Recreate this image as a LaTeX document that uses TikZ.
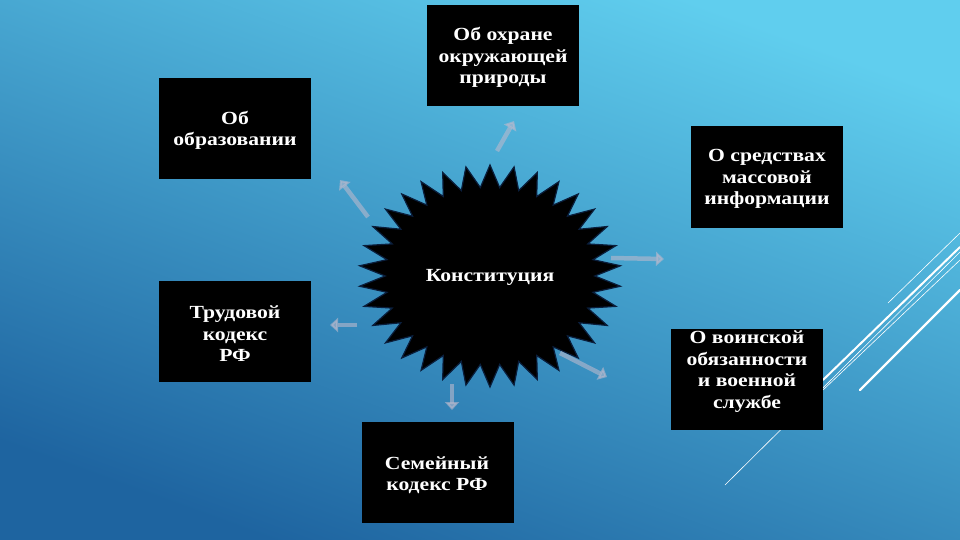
\documentclass[tikz,border=0pt]{standalone}
\usepackage{fontspec}
\newfontfamily\boxfont{Liberation Serif}[FakeStretch=1.17]
\usetikzlibrary{shapes.geometric,arrows.meta}
\definecolor{bgtop}{RGB}{96,206,238}
\definecolor{bgbot}{RGB}{30,100,160}
\definecolor{arrcol}{RGB}{185,185,205}
\definecolor{staredge}{RGB}{10,30,60}
\tikzset{
  txt/.style={text=white, font=\boxfont\bfseries\fontsize{18.5}{21.5}\selectfont, align=center, inner sep=0pt},
  box/.style={txt, fill=black, minimum width=152pt, minimum height=101pt},
  arr/.style={draw=arrcol, opacity=0.6, line width=4.5pt, -{Triangle[length=8pt,width=14pt]}},
  deco/.style={draw=white, line cap=round},
}
\begin{document}
\begin{tikzpicture}[x=1pt,y=-1pt]
\useasboundingbox (0,0) rectangle (960,540);
\shade[top color=bgtop, bottom color=bgbot, shading angle=-20] (0,0) rectangle (960,540);
% decorative lines
\coordinate (l1a) at (888,303); \coordinate (l1b) at (960,233);
\coordinate (l2a) at (823,380); \coordinate (l2b) at (960,247);
\coordinate (l3a) at (725,485); \coordinate (l3b) at (960,252);
\coordinate (l4a) at (823,390); \coordinate (l4b) at (960,260);
\coordinate (l5a) at (860,390); \coordinate (l5b) at (960,290);
\draw[deco, line width=0.6pt] (l1a) -- (l1b);
\draw[deco, line width=2pt] (l2a) -- (l2b);
\draw[deco, line width=0.6pt] (l3a) -- (l3b);
\draw[deco, line width=0.6pt] (l4a) -- (l4b);
\draw[deco, line width=2.2pt] (l5a) -- (l5b);
% star
\node[star, star points=34, star point ratio=1.25, fill=black, draw=staredge, line width=1.2pt, minimum size=222pt, inner sep=0pt, xscale=1.18] (star) at (490,276) {};
\node[txt] (konst) at (490,277) {Конституция};
% boxes
\node[box] (ohrana) at (503,55.5) {};
\node[txt] (ohranatxt) at (503,57.5) {Об охране\\окружающей\\природы};
\node[box] (obraz) at (235,129) {};
\node[txt] (obraztxt) at (235,130.5) {Об\\образовании};
\node[box] (smi) at (767,177) {};
\node[txt] (smitxt) at (767,179) {О средствах\\массовой\\информации};
\node[box] (trud) at (235,331.5) {};
\node[txt] (trudtxt) at (235,334) {Трудовой\\кодекс\\РФ};
\node[box] (voin) at (747,379.5) {};
\node[txt] (vointxt) at (747,371.5) {О воинской\\обязанности\\и военной\\службе};
\node[box] (sem) at (437.5,472) {};
\node[txt] (semtxt) at (437,475) {Семейный\\кодекс РФ};
% arrows
\coordinate (a1s) at (497,151); \coordinate (a1e) at (514,121);
\coordinate (a2s) at (368,217); \coordinate (a2e) at (340,180);
\coordinate (a3s) at (611,258); \coordinate (a3e) at (664,259);
\coordinate (a4s) at (357,325); \coordinate (a4e) at (330,325);
\coordinate (a5s) at (560,353); \coordinate (a5e) at (607,377);
\coordinate (a6s) at (452,384); \coordinate (a6e) at (452,410);
\draw[arr] (a1s) -- (a1e);
\draw[arr] (a2s) -- (a2e);
\draw[arr] (a3s) -- (a3e);
\draw[arr] (a4s) -- (a4e);
\draw[arr] (a5s) -- (a5e);
\draw[arr] (a6s) -- (a6e);
\end{tikzpicture}
\end{document}
